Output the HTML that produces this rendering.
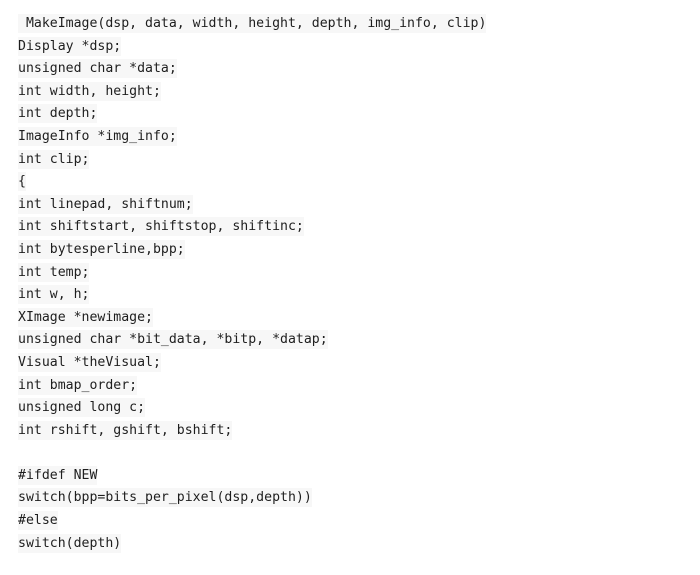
<!DOCTYPE html>
<html><head><style>
html,body{margin:0;padding:0;background:#fff;width:700px;height:575px;overflow:hidden}
.c{position:absolute;left:18px;top:13px;font-family:"DejaVu Sans Mono","Liberation Mono",monospace;font-size:13.2px;line-height:22.6px;color:#1e1e1e;white-space:pre}
.c span{background:#f7f7f7;padding:2px 0}
</style></head><body>
<div class="c"><span> MakeImage(dsp, data, width, height, depth, img_info, clip)</span>
<span>Display *dsp;</span>
<span>unsigned char *data;</span>
<span>int width, height;</span>
<span>int depth;</span>
<span>ImageInfo *img_info;</span>
<span>int clip;</span>
<span>{</span>
<span>int linepad, shiftnum;</span>
<span>int shiftstart, shiftstop, shiftinc;</span>
<span>int bytesperline,bpp;</span>
<span>int temp;</span>
<span>int w, h;</span>
<span>XImage *newimage;</span>
<span>unsigned char *bit_data, *bitp, *datap;</span>
<span>Visual *theVisual;</span>
<span>int bmap_order;</span>
<span>unsigned long c;</span>
<span>int rshift, gshift, bshift;</span>

<span>#ifdef NEW</span>
<span>switch(bpp=bits_per_pixel(dsp,depth))</span>
<span>#else</span>
<span>switch(depth)</span></div>
</body></html>
